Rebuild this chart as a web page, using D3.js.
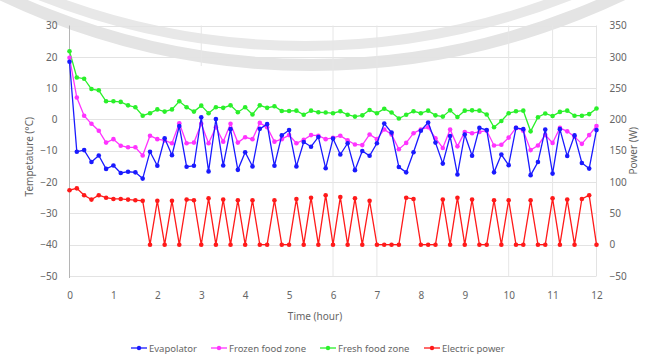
<!DOCTYPE html>
<html>
<head>
<meta charset="utf-8">
<script src="https://cdn.jsdelivr.net/npm/d3@7"></script>
<style>
html,body{margin:0;padding:0;background:#fff;}
svg{display:block;}
text{font-family:"Noto Sans","Open Sans",sans-serif;}
</style>
</head>
<body>
<svg id="chart" width="649" height="359"></svg>
<script>
// ---- data ----
const timeMinutes = [0,10,20,30,40,50,60,70,80,90,100,110,120,130,140,150,160,170,180,190,200,210,220,230,240,250,260,270,280,290,300,310,320,330,340,350,360,370,380,390,400,410,420,430,440,450,460,470,480,490,500,510,520,530,540,550,560,570,580,590,600,610,620,630,640,650,660,670,680,690,700,710,720];

const evaporator = [18.4,-10.3,-9.8,-13.6,-11.5,-15.8,-14.7,-17.1,-16.7,-16.9,-18.9,-10.3,-14.8,-6.0,-11.4,-2.1,-15.1,-14.8,0.7,-16.6,
  0.1,-14.7,-3.1,-16.1,-10.5,-15.0,-3.0,-1.5,-14.8,-5.1,-3.4,-15.0,-7.2,-8.7,-5.6,-15.6,-6.1,-11.2,-7.6,
  -16.2,-10.1,-11.6,-7.6,-1.3,-4.2,-15.2,-16.9,-10.5,-3.6,-1.0,-7.4,-14.1,-5.3,-17.6,-4.8,-11.6,-2.7,
  -3.4,-16.9,-11.2,-14.6,-2.7,-3.1,-17.8,-13.6,-3.2,-17.3,-3.1,-11.7,-5.1,-13.9,-15.7,-3.4];

const frozenZone = [19.7,7.0,1.2,-1.4,-3.6,-7.4,-6.3,-8.4,-8.9,-8.9,-11.5,-5.2,-6.3,-6.7,-7.6,-1.2,-7.6,-7.4,-1.4,-7.6,
  -2.5,-7.1,-1.4,-7.4,-5.7,-6.3,-1.1,-2.5,-7.1,-6.3,-5.0,-7.6,-6.5,-5.0,-5.2,-6.3,-5.9,-5.2,-6.7,
  -8.0,-8.2,-4.8,-6.3,-3.2,-4.8,-9.5,-7.5,-4.4,-3.2,-2.5,-6.0,-9.1,-3.2,-8.6,-4.0,-4.4,-4.0,
  -3.6,-8.3,-8.1,-5.8,-2.7,-3.6,-9.8,-8.3,-5.0,-7.5,-2.7,-3.8,-5.5,-7.8,-5.0,-2.1];

const freshZone = [21.8,13.4,13.0,9.7,9.3,5.8,5.8,5.6,4.5,3.9,1.2,2.0,3.2,2.5,3.2,5.8,3.9,2.5,4.4,2.0,
  3.9,3.7,4.5,2.3,3.9,1.6,4.5,3.7,4.2,2.7,2.7,2.8,1.5,2.8,2.3,2.2,2.0,2.6,1.5,
  0.9,1.3,3.0,2.0,3.4,2.2,0.3,1.5,2.6,2.0,2.8,1.3,0.9,2.9,0.8,2.8,2.9,2.8,
  1.6,-2.5,-0.5,2.0,2.6,2.8,-3.8,0.7,1.9,1.1,2.4,2.8,1.2,1.2,1.7,3.5];

const electricPower = [87,90,79,72,79,75,73,73,72,71,70,0,70,0,70,0,72,71,0,74,
  0,72,0,71,0,71,0,0,71,0,0,73,0,75,0,79,0,76,0,
  74,0,70,0,0,0,0,75,73,0,0,0,72,0,75,0,72,0,
  0,71,0,71,0,0,71,0,0,74,0,72,0,73,79,0];

const xTicks = [0,1,2,3,4,5,6,7,8,9,10,11,12];
const tempTicks = [30,20,10,0,-10,-20,-30,-40,-50];
const powerTicks = [350,300,250,200,150,100,50,0,-50];
const extraVGridHours = [6,7,10,11];

const seriesNames = ["Evapolator","Frozen food zone","Fresh food zone","Electric power"];
const seriesColors = ["#1a1aff","#ff33ff","#2af02a","#ff1a1a"];

// ---- layout ----
const svg = d3.select("#chart");
const plotL = 69.5, plotR = 596.5, plotT = 25.5, plotB = 276;

const x = d3.scaleLinear().domain([0,12]).range([plotL,plotR]);
const yT = d3.scaleLinear().domain([-50,30]).range([plotB,plotT]);
const yP = d3.scaleLinear().domain([-50,350]).range([plotB,plotT]);

// watermark arcs (scan background)
const wm = svg.append("g");
wm.append("circle").attr("cx",305).attr("cy",-674).attr("r",720)
  .attr("fill","none").attr("stroke","#e8e8e8").attr("stroke-width",10);
wm.append("circle").attr("cx",312).attr("cy",-655).attr("r",720)
  .attr("fill","none").attr("stroke","#e4e4e4").attr("stroke-width",12);

// horizontal gridlines
svg.append("g").selectAll("line").data(tempTicks).join("line")
  .attr("x1",plotL).attr("x2",plotR)
  .attr("y1",d=>Math.round(yT(d))+0.5).attr("y2",d=>Math.round(yT(d))+0.5)
  .attr("stroke","#e3e3e3").attr("stroke-width",1);

// some vertical gridlines visible
svg.append("g").selectAll("line").data(extraVGridHours).join("line")
  .attr("x1",d=>x(d)).attr("x2",d=>x(d))
  .attr("y1",plotT).attr("y2",plotB)
  .attr("stroke","#e6e6e6").attr("stroke-width",1);
svg.append("line").attr("x1",x(3)).attr("x2",x(3)).attr("y1",plotT).attr("y2",66)
  .attr("stroke","#e6e6e6");

// left axis line and right line
svg.append("line").attr("x1",plotL).attr("x2",plotL).attr("y1",plotT).attr("y2",plotB+2)
  .attr("stroke","#b5b5b5");
svg.append("line").attr("x1",plotR).attr("x2",plotR).attr("y1",plotT).attr("y2",plotB)
  .attr("stroke","#e3e3e3");

// axes
const axisLeft = d3.axisLeft(yT).tickValues(tempTicks).tickSize(0).tickPadding(12);
const gL = svg.append("g").attr("transform",`translate(${plotL},0)`).call(axisLeft);
const axisRight = d3.axisRight(yP).tickValues(powerTicks).tickSize(0).tickPadding(13);
const gR = svg.append("g").attr("transform",`translate(${plotR},0)`).call(axisRight);
const axisBottom = d3.axisBottom(x).tickValues(xTicks).tickSize(0).tickPadding(16);
const gB = svg.append("g").attr("transform",`translate(0,${plotB})`).call(axisBottom);
[gL,gR,gB].forEach(g=>{
  g.select(".domain").remove();
  g.selectAll("text").attr("fill","#666").attr("font-size",10)
   .attr("font-family","'Noto Sans','Open Sans',sans-serif");
});

// axis titles
svg.append("text").attr("transform",`translate(33,${(plotT+plotB)/2+6}) rotate(-90)`)
  .attr("text-anchor","middle").attr("font-size",10).attr("fill","#666")
  .text("Tempetature (°C)");
svg.append("text").attr("transform",`translate(637,${(plotT+plotB)/2}) rotate(-90)`)
  .attr("text-anchor","middle").attr("font-size",10).attr("fill","#666")
  .text("Power (W)");
svg.append("text").attr("x",315).attr("y",320).attr("text-anchor","middle")
  .attr("font-size",10).attr("fill","#666").text("Time (hour)");

// series
const hours = timeMinutes.map(m=>m/60);
const seriesList = [
  {vals:evaporator, y:yT},
  {vals:frozenZone, y:yT},
  {vals:freshZone, y:yT},
  {vals:electricPower, y:yP}
];
const drawOrder = [3,2,1,0];
drawOrder.forEach(si=>{
  const s = seriesList[si];
  const pts = s.vals.map((v,i)=>[x(hours[i]), s.y(v)]);
  const g = svg.append("g");
  g.append("path").attr("d",d3.line()(pts)).attr("fill","none")
    .attr("stroke",seriesColors[si]).attr("stroke-width",1.3);
  g.selectAll("circle").data(pts).join("circle")
    .attr("cx",d=>d[0]).attr("cy",d=>d[1]).attr("r",2.3)
    .attr("fill",seriesColors[si]);
});

// legend
const legendX = [131,211,320,424];
const legendY = 348;
const lg = svg.append("g");
seriesNames.forEach((name,i)=>{
  const gx = lg.append("g").attr("transform",`translate(${legendX[i]},${legendY})`);
  gx.append("line").attr("x1",0).attr("x2",16).attr("y1",0).attr("y2",0)
    .attr("stroke",seriesColors[i]).attr("stroke-width",1.3);
  gx.append("circle").attr("cx",8).attr("cy",0).attr("r",2.2).attr("fill",seriesColors[i]);
  gx.append("text").attr("x",18).attr("y",3.5).attr("font-size",9.5).attr("fill","#666").text(name);
});
</script>
</body>
</html>
